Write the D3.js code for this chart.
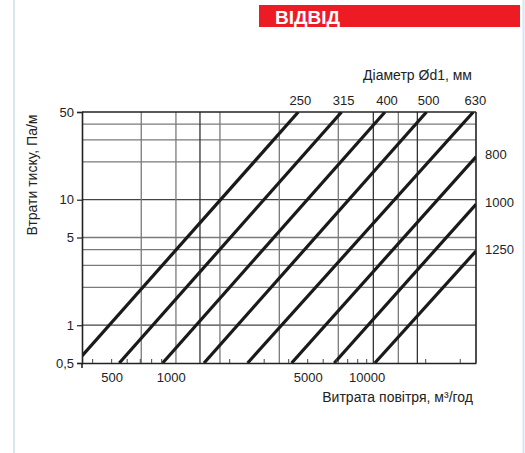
<!DOCTYPE html>
<html><head><meta charset="utf-8">
<script src="https://cdn.jsdelivr.net/npm/d3@7"></script>
<style>body{margin:0;background:#fff} svg{display:block} text{font-family:"Liberation Sans",Arial,sans-serif;fill:#222}</style>
</head><body><svg id="c" width="525" height="453"></svg>
<script>
// Data (flow m³/h, pressure loss Pa/m)
const diameters = ["250","315","400","500","630","800","1000","1250"];
const flowStart = [353, 547, 910, 1480, 2470, 4140, 6830, 11000];
const lossStart = [0.57, 0.5, 0.5, 0.5, 0.5, 0.5, 0.5, 0.5];
const flowEnd   = [4480, 7450, 12400, 20200, 35000, 36100, 36100, 36100];
const lossEnd   = [50, 50, 50, 50, 50, 22, 9.2, 3.9];
const xTickValues = [500, 1000, 5000, 10000];
const xTickLabels = ["500", "1000", "5000", "10000"];
const xMinorTicks = [400, 500, 600, 700, 800, 900, 2000, 3000, 4000, 5000, 6000, 7000, 8000, 9000, 10000, 20000, 30000];
const xGridValues = [708, 1064, 1411, 1784, 3583, 7164, 10810, 14500, 18130];
const xGridDark   = [1411, 10810, 18130];
const yTickValues = [0.5, 1, 5, 10, 50];
const yTickLabels = ["0,5", "1", "5", "10", "50"];
const yGridValues = [1, 2, 3, 4, 5, 10, 20, 30, 40];
const xDomain = [353, 36100];
const yDomain = [0.5, 50];

const svg = d3.select("#c");
const L = 82, R = 476, T = 112, B = 363;
const x = d3.scaleLog().domain(xDomain).range([L, R]);
const y = d3.scaleLog().domain(yDomain).range([B, T]);

// frame
svg.append("line").attr("x1",14).attr("x2",14).attr("y1",0).attr("y2",453).attr("stroke","#d8e6ef").attr("stroke-width",2);
svg.append("line").attr("x1",523.5).attr("x2",523.5).attr("y1",0).attr("y2",453).attr("stroke","#d8e6ef").attr("stroke-width",2);

// header
svg.append("rect").attr("x",259).attr("y",5).attr("width",261).attr("height",22).attr("fill","#ed1c24");
svg.append("text").attr("x",275).attr("y",24).text("ВІДВІД")
  .style("font-family","'Liberation Sans',Arial,sans-serif").style("font-weight","bold").style("font-size","19px").style("fill","#fff");

// grid
const g = svg.append("g");
g.selectAll(".hg").data(yGridValues).join("line")
  .attr("x1",L).attr("x2",R).attr("y1",d=>y(d)).attr("y2",d=>y(d))
  .attr("stroke", d => (d===10||d===1) ? "#444" : "#7a7a7a").attr("stroke-width",1.3);
g.selectAll(".vg").data(xGridValues).join("line")
  .attr("x1",d=>x(d)).attr("x2",d=>x(d)).attr("y1",T).attr("y2",B)
  .attr("stroke", d => xGridDark.includes(d) ? "#333" : "#7a7a7a").attr("stroke-width",1.3);

// border top & right
svg.append("line").attr("x1",L).attr("x2",R).attr("y1",T).attr("y2",T).attr("stroke","#222").attr("stroke-width",1.6);
svg.append("line").attr("x1",R).attr("x2",R).attr("y1",T).attr("y2",B).attr("stroke","#222").attr("stroke-width",1.6);

// diameter lines
svg.append("clipPath").attr("id","clip").append("rect").attr("x",L).attr("y",T).attr("width",R-L).attr("height",B-T);
const lines = diameters.map((d,i)=>({d, pts:[[flowStart[i],lossStart[i]],[flowEnd[i],lossEnd[i]]]}));
const lineGen = d3.line().x(p=>x(p[0])).y(p=>y(p[1]));
svg.append("g").attr("clip-path","url(#clip)").selectAll("path").data(lines).join("path")
  .attr("d",l=>lineGen(l.pts)).attr("fill","none").attr("stroke","#1a1a1a").attr("stroke-width",3.2).attr("stroke-linecap","butt");

// axes
const xAxis = d3.axisBottom(x).tickValues(xTickValues).tickFormat((d,i)=>xTickLabels[i]).tickSize(0).tickPadding(10);
const xa = svg.append("g").attr("transform",`translate(0,${B})`).call(xAxis);
xa.select(".domain").attr("stroke","#222").attr("stroke-width",1.6);
xa.selectAll("text").style("font-size","13px").style("fill","#222").attr("font-family",null);
// minor ticks inward
svg.append("g").selectAll("line").data(xMinorTicks).join("line")
  .attr("x1",d=>x(d)).attr("x2",d=>x(d)).attr("y1",B).attr("y2",B-4).attr("stroke","#444").attr("stroke-width",1);
svg.append("line").attr("x1",L).attr("x2",L).attr("y1",B).attr("y2",B+5).attr("stroke","#222").attr("stroke-width",1.6);

const yAxis = d3.axisLeft(y).tickValues(yTickValues).tickFormat((d,i)=>yTickLabels[i]).tickSize(5).tickPadding(3);
const ya = svg.append("g").attr("transform",`translate(${L},0)`).call(yAxis);
ya.select(".domain").attr("stroke","#222").attr("stroke-width",1.6);
ya.selectAll(".tick line").attr("stroke","#222").attr("stroke-width",1.2);
ya.selectAll("text").style("font-size","13px").style("fill","#222");

// diameter labels
lines.forEach((l,i)=>{
  if (lossEnd[i] >= yDomain[1]) {
    svg.append("text").attr("x",x(flowEnd[i])+2).attr("y",T-7).attr("text-anchor","middle").style("font-size","13px").text(l.d);
  } else {
    svg.append("text").attr("x",485).attr("y",y(lossEnd[i])-2).attr("dy","0.35em").style("font-size","13px").text(l.d);
  }
});

// titles
svg.append("text").attr("x",472).attr("y",80).attr("text-anchor","end").style("font-size","14px").text("Діаметр Ød1, мм");
svg.append("text").attr("x",473).attr("y",402).attr("text-anchor","end").style("font-size","14px").text("Витрата повітря, м³/год");
svg.append("text").attr("transform","translate(37,175) rotate(-90)").attr("text-anchor","middle").style("font-size","14px").text("Втрати тиску, Па/м");
</script></body></html>
